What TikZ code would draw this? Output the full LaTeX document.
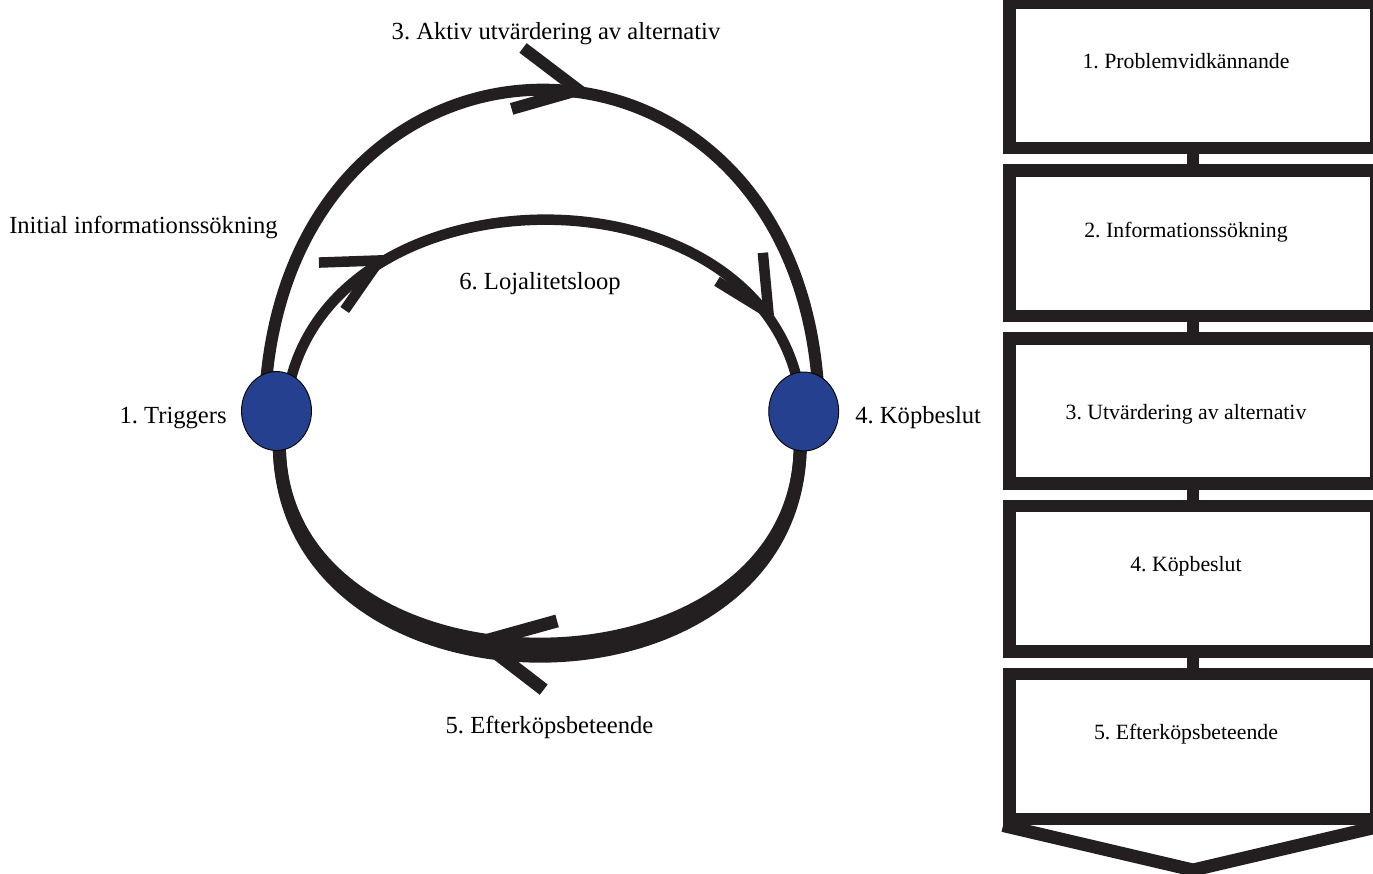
\documentclass[tikz,border=0pt]{standalone}
\usepackage{fontspec}
\setmainfont{Liberation Serif}
\usepackage{tikz}
\usetikzlibrary{arrows.meta,shapes.geometric,decorations.markings,backgrounds}
\definecolor{ink}{RGB}{35,31,32}
\definecolor{dotblue}{RGB}{36,64,142}
\frenchspacing

\begin{document}
\begin{tikzpicture}[x=0.02cm, y=-0.02cm,
    lbl/.style={font=\fontsize{14}{16}\selectfont, anchor=base, inner sep=0pt},
    boxlbl/.style={font=\fontsize{12.4}{15}\selectfont, anchor=base, inner sep=0pt},
    dot/.style={ellipse, draw=black, line width=0.5pt, fill=dotblue,
                minimum width=1.4cm, minimum height=1.58cm, inner sep=0pt},
    stagebox/.style={draw=ink, line width=0.25cm, fill=white,
                     minimum width=7.35cm, minimum height=2.91cm, inner sep=0pt},
    loopline/.style={draw=ink, line width=0.24cm, shorten <=-0.15cm, shorten >=-0.15cm},
    barb/.style 2 args={postaction={decorate, decoration={markings,
        mark=at position #1 with {\arrow{Straight Barb[length=#2, width=#2]}}}}},
  ]
  \useasboundingbox (0,0) rectangle (1373,873);
  \clip (0,0) rectangle (1373,873);

  \node[dot] (trig) at (276.5, 411) {};
  \node[dot] (kop) at (803.7, 411.5) {};

  \node[lbl] (aktiv) at (556, 39.5) {3. Aktiv utvärdering av alternativ};
  \node[lbl] (init) at (143.5, 233) {Initial informationssökning};
  \node[lbl] (lojal) at (540, 289.5) {6. Lojalitetsloop};
  \node[lbl, anchor=base east] (trigtxt) at (227, 423.5) {1. Triggers};
  \node[lbl, anchor=base west] (koptxt) at (855, 423.5) {4. Köpbeslut};
  \node[lbl] (efter) at (549.5, 733.5) {5. Efterköpsbeteende};

  \begin{scope}[on background layer]
    \draw[loopline, barb={0.555}{1.24cm}]
      (trig.104) .. controls +(35,-381) and +(-30,-381) .. (kop.70);
    \draw[loopline, line width=0.21cm, barb={0.25}{1.08cm}, barb={0.915}{1.08cm}]
      (trig.67) .. controls +(50,-208) and +(-50,-208) .. (kop.102);
    \draw[loopline, line width=0.26cm, barb={0.6}{1.4cm}]
      (kop.-95) .. controls +(0,260) and +(0,260) .. (trig.-86);
    \draw[loopline, line width=0.26cm]
      (kop.-95) .. controls +(0,276) and +(0,276) .. (trig.-86);
  \end{scope}

  \foreach \i/\stagetxt/\dy in {1/{1. Problemvidkännande}/-7,
      2/{2. Informationssökning}/-6, 3/{3. Utvärdering av alternativ}/8,
      4/{4. Köpbeslut}/-7, 5/{5. Efterköpsbeteende}/-7} {
    \node[stagebox] (s\i) at (1193, {75.5+167.75*(\i-1)}) {};
    \node[boxlbl] (t\i) at (1186, {75.5+167.75*(\i-1)+\dy}) {\stagetxt};
  }
  \foreach \i/\j in {1/2, 2/3, 3/4, 4/5}
    \draw[ink, line width=0.245cm] (s\i.south) -- (s\j.north);

  \coordinate (tip) at (1193, 870);
  \draw[ink, line width=0.26cm] (s5.south west) -- (tip) -- (s5.south east);
\end{tikzpicture}
\end{document}
